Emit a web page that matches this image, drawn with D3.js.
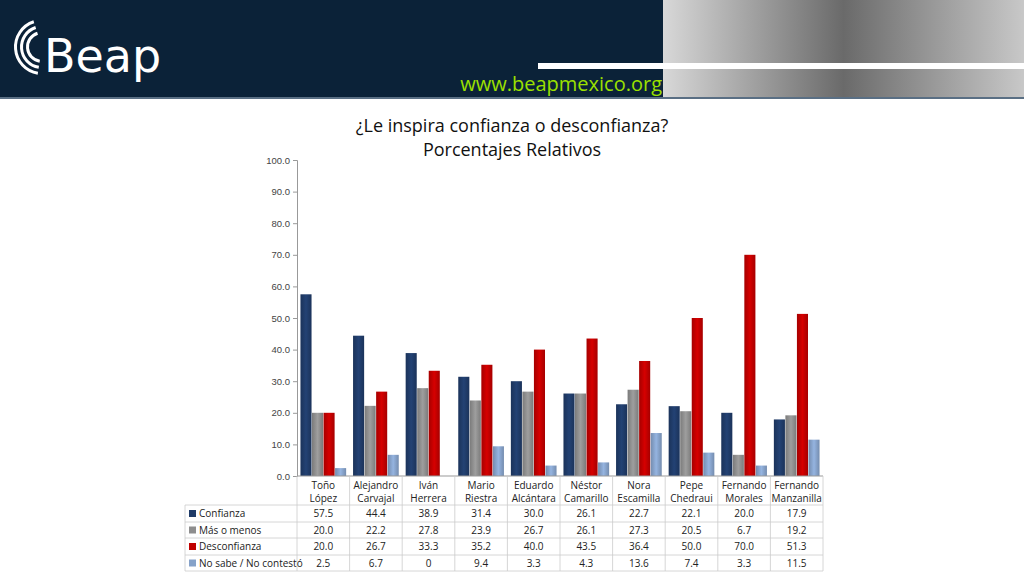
<!DOCTYPE html>
<html><head><meta charset="utf-8">
<script src="https://cdn.jsdelivr.net/npm/d3@7"></script>
<style>body{margin:0;background:#fff}svg{display:block;font-family:"Open Sans",Calibri,sans-serif}</style>
</head><body><svg id="c" width="1024" height="576"></svg>
<script>
const categories=[["Toño","López"],["Alejandro","Carvajal"],["Iván","Herrera"],["Mario","Riestra"],["Eduardo","Alcántara"],["Néstor","Camarillo"],["Nora","Escamilla"],["Pepe","Chedraui"],["Fernando","Morales"],["Fernando","Manzanilla"]];
const seriesNames=["Confianza","Más o menos","Desconfianza","No sabe / No contestó"];
const confianza=[57.5,44.4,38.9,31.4,30.0,26.1,22.7,22.1,20.0,17.9];
const masomenos=[20.0,22.2,27.8,23.9,26.7,26.1,27.3,20.5,6.7,19.2];
const desconfianza=[20.0,26.7,33.3,35.2,40.0,43.5,36.4,50.0,70.0,51.3];
const nosabe=[2.5,6.7,0,9.4,3.3,4.3,13.6,7.4,3.3,11.5];
const labels=[["57.5","44.4","38.9","31.4","30.0","26.1","22.7","22.1","20.0","17.9"],["20.0","22.2","27.8","23.9","26.7","26.1","27.3","20.5","6.7","19.2"],["20.0","26.7","33.3","35.2","40.0","43.5","36.4","50.0","70.0","51.3"],["2.5","6.7","0","9.4","3.3","4.3","13.6","7.4","3.3","11.5"]];
const yTicks=[0,10,20,30,40,50,60,70,80,90,100];
const series=[confianza,masomenos,desconfianza,nosabe];
const colors=["#1f3b68","#8e8e8e","#c00000","#86a2c9"];
const svg=d3.select("#c");
svg.append("rect").attr("width",1024).attr("height",99).attr("fill","#0b2238");
const g0=svg.append("defs").append("linearGradient").attr("id","ph");
g0.append("stop").attr("offset","0").attr("stop-color","#d8d8d8");
g0.append("stop").attr("offset","0.5").attr("stop-color","#6a6a6a");
g0.append("stop").attr("offset","1").attr("stop-color","#c8c8c8");
svg.append("rect").attr("x",663).attr("width",361).attr("height",99).attr("fill","url(#ph)");
svg.append("rect").attr("x",538).attr("y",63).attr("width",486).attr("height",6).attr("fill","#fff");
svg.append("rect").attr("y",97).attr("width",1024).attr("height",2).attr("fill","#5a6f84");
svg.append("text").attr("x",662).attr("y",91).attr("text-anchor","end").attr("fill","#9be000").attr("font-size",20).text("www.beapmexico.org");
[28,22,16].forEach((r,i)=>svg.append("path").attr("d",d3.arc()({innerRadius:r-3,outerRadius:r,startAngle:Math.PI*1.05,endAngle:Math.PI*1.9})).attr("transform",`translate(42,47)`).attr("fill","#fff"));
svg.append("text").attr("x",44).attr("y",72).attr("fill","#fff").attr("font-size",46).attr("font-family","DejaVu Sans").text("Beap");
svg.append("text").attr("x",512).attr("y",132).attr("text-anchor","middle").attr("font-size",18).attr("fill","#111").text("¿Le inspira confianza o desconfianza?");
svg.append("text").attr("x",512).attr("y",156).attr("text-anchor","middle").attr("font-size",18).attr("fill","#111").text("Porcentajes Relativos");
const x0=297,x1=823,yTop=160,yBot=476;
const x=d3.scaleBand().domain(d3.range(categories.length)).range([x0,x1]);
const y=d3.scaleLinear().domain([0,100]).range([yBot,yTop]);
const xs=d3.scaleBand().domain(d3.range(4)).range([0,x.bandwidth()]).paddingInner(0.04).paddingOuter(0.3);
const ax=svg.append("g").attr("transform",`translate(${x0},0)`).call(d3.axisLeft(y).tickValues(yTicks).tickFormat(d3.format(".1f")).tickSize(4));
ax.selectAll("text").attr("font-size",9.5).attr("fill","#444");
ax.selectAll("line,path").attr("stroke","#999");
const defs=svg.select("defs");
colors.forEach((c,i)=>{const lg=defs.append("linearGradient").attr("id","b"+i);
lg.append("stop").attr("offset","0").attr("stop-color",d3.color(c).darker(0.4));
lg.append("stop").attr("offset","0.5").attr("stop-color",d3.color(c).brighter(0.3));
lg.append("stop").attr("offset","1").attr("stop-color",d3.color(c).darker(0.4));});
series.forEach((s,si)=>{
 svg.append("g").selectAll("rect").data(s).join("rect")
 .attr("x",(d,i)=>x(i)+xs(si)).attr("width",xs.bandwidth())
 .attr("y",d=>y(d)).attr("height",d=>yBot-y(d)).attr("fill",`url(#b${si})`);
});
svg.append("line").attr("x1",x0).attr("x2",x1).attr("y1",yBot).attr("y2",yBot).attr("stroke","#999");
const tl=185,rowY=[476,505,522,538,555,571];
const tg=svg.append("g").attr("stroke","#ccc").attr("stroke-width",0.8);
d3.range(categories.length+1).forEach(i=>tg.append("line").attr("x1",x0+i*x.bandwidth()).attr("x2",x0+i*x.bandwidth()).attr("y1",yBot).attr("y2",rowY[5]));
rowY.slice(1).forEach(yy=>tg.append("line").attr("x1",tl).attr("x2",x1).attr("y1",yy).attr("y2",yy));
tg.append("line").attr("x1",tl).attr("x2",tl).attr("y1",rowY[1]).attr("y2",rowY[5]);
categories.forEach((c,i)=>c.forEach((t,j)=>svg.append("text").attr("x",x(i)+x.bandwidth()/2).attr("y",489+j*13).attr("text-anchor","middle").attr("font-size",10).attr("fill","#222").text(t)));
seriesNames.forEach((n,si)=>{
 const cy=(rowY[si+1]+rowY[si+2])/2;
 svg.append("rect").attr("x",189).attr("y",cy-3.5).attr("width",7).attr("height",7).attr("fill",colors[si]);
 svg.append("text").attr("x",199).attr("y",cy+3.5).attr("font-size",10).attr("fill","#222").text(n);
 labels[si].forEach((l,i)=>svg.append("text").attr("x",x(i)+x.bandwidth()/2).attr("y",cy+3.5).attr("text-anchor","middle").attr("font-size",10).attr("fill","#222").text(l));
});
</script></body></html>
